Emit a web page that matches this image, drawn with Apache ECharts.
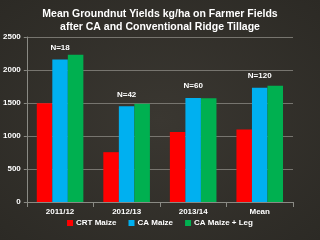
<!DOCTYPE html>
<html lang="en">
<head>
    <meta charset="UTF-8">
    <title>Groundnut yields</title>
    <script src="https://cdn.jsdelivr.net/npm/echarts@6/dist/echarts.min.js"></script>
    <style>
        html, body { margin: 0; padding: 0; }
        #chart {
            width: 320px;
            height: 240px;
            background: radial-gradient(ellipse at center, #3a3731 0%, #2c2a25 100%);
        }
    </style>
</head>
<body>
<div id="chart"></div>
<script>
    var seasons = ['2011/12', '2012/13', '2013/14', 'Mean'];
    var crtMaize = [1495, 755, 1060, 1100];
    var caMaize = [2160, 1450, 1575, 1730];
    var caMaizeLeg = [2232, 1490, 1572, 1762];
    var nLabels = ['N=18', 'N=42', 'N=60', 'N=120'];

    var chart = echarts.init(document.getElementById('chart'));
    var font = 'Liberation Sans, Arial, sans-serif';

    var option = {
        backgroundColor: 'transparent',
        title: {
            text: 'Mean Groundnut Yields kg/ha on Farmer Fields\nafter CA and Conventional Ridge Tillage',
            left: 'center',
            top: 3,
            textStyle: {
                color: '#ffffff',
                fontSize: 10.5,
                fontWeight: 'bold',
                fontFamily: font,
                lineHeight: 13
            }
        },
        legend: {
            bottom: 8,
            left: 'center',
            itemWidth: 6,
            itemHeight: 6,
            itemGap: 12,
            icon: 'rect',
            textStyle: { color: '#ffffff', fontSize: 8, fontWeight: 'bold', fontFamily: font, padding: [0, 0, 0, -2] },
            data: ['CRT Maize', 'CA Maize', 'CA Maize + Leg']
        },
        grid: { left: 23, right: 27, top: 37, bottom: 38 },
        xAxis: {
            type: 'category',
            data: seasons,
            axisLine: { lineStyle: { color: '#8a8a84' } },
            axisTick: { show: true, lineStyle: { color: '#8a8a84' } },
            axisLabel: { color: '#ffffff', fontSize: 8, fontWeight: 'bold', fontFamily: font, margin: 6 }
        },
        yAxis: {
            type: 'value',
            min: 0,
            max: 2500,
            interval: 500,
            axisLine: { show: true, lineStyle: { color: '#8a8a84' } },
            axisTick: { show: true, length: 3, lineStyle: { color: '#8a8a84' } },
            splitLine: { lineStyle: { color: '#77756f', width: 1 } },
            axisLabel: {
                color: '#ffffff', fontSize: 8, fontWeight: 'bold', fontFamily: font, margin: 6,
                formatter: function (v) { return String(v); }
            }
        },
        series: [
            {
                name: 'CRT Maize',
                type: 'bar',
                data: crtMaize,
                barGap: '0%',
                barCategoryGap: '30%',
                itemStyle: { color: '#ff0000' }
            },
            {
                name: 'CA Maize',
                type: 'bar',
                data: caMaize,
                itemStyle: { color: '#00b0f0' },
                label: {
                    show: true,
                    position: 'top',
                    distance: 8,
                    color: '#ffffff',
                    fontSize: 8,
                    fontWeight: 'bold',
                    fontFamily: font,
                    formatter: function (p) { return nLabels[p.dataIndex]; }
                }
            },
            {
                name: 'CA Maize + Leg',
                type: 'bar',
                data: caMaizeLeg,
                itemStyle: { color: '#00b050' }
            }
        ]
    };
    chart.setOption(option);
</script>
</body>
</html>
